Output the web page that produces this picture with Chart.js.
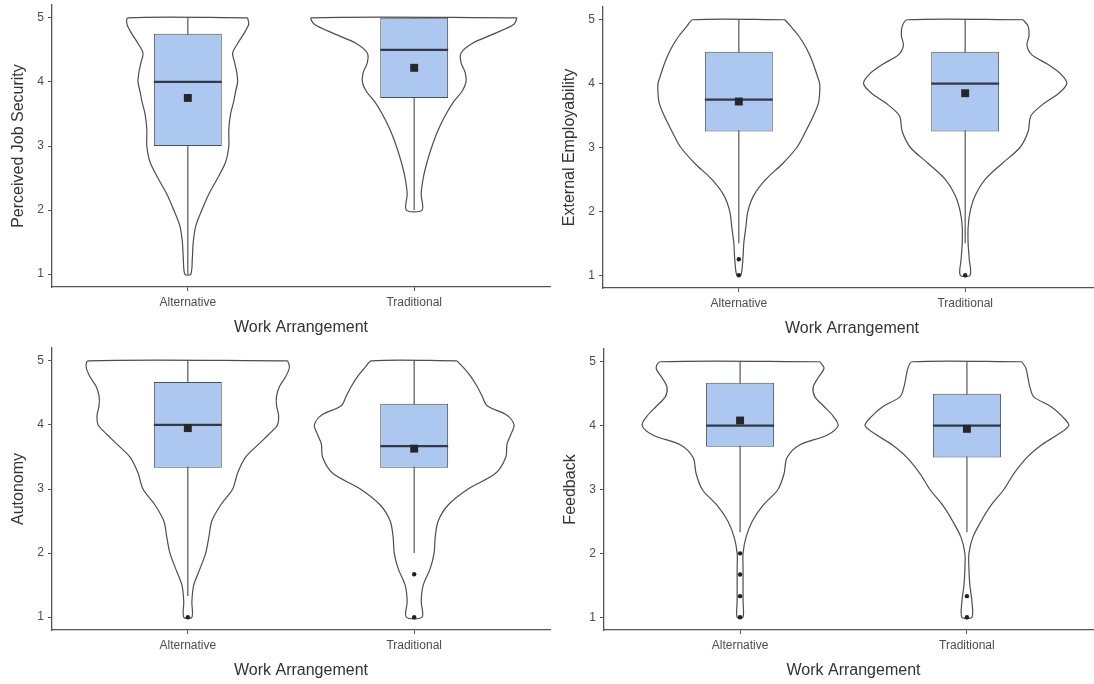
<!DOCTYPE html>
<html>
<head>
<meta charset="utf-8">
<script src="https://cdn.jsdelivr.net/npm/chart.js@4/dist/chart.umd.min.js"></script>
<style>
  body { margin: 0; background: #fff; overflow: hidden; width: 1094px; height: 684px; position: relative; }
  canvas { position: absolute; }
</style>
</head>
<body>
<canvas id="jobSecurity"></canvas>
<canvas id="employability"></canvas>
<canvas id="autonomy"></canvas>
<canvas id="feedback"></canvas>
<script>
// shared axis data
const categories = ['Alternative', 'Traditional'];
const yTicks = [1, 2, 3, 4, 5];
const violinLevels = [5, 4.9, 4.75, 4.6, 4.45, 4.3, 4.15, 4, 3.85, 3.7, 3.5, 3.25, 3, 2.75, 2.5, 2.25, 2, 1.75, 1.5, 1.25, 1];

// Perceived Job Security (violin half widths in category units, per level)
const jobSecurityViolinAlt = [0.264, 0.269, 0.247, 0.220, 0.198, 0.207, 0.216, 0.220, 0.211, 0.203, 0.189, 0.181, 0.181, 0.167, 0.132, 0.093, 0.062, 0.035, 0.024, 0.020, 0.013];
const jobSecurityViolinTrad = [0.454, 0.441, 0.352, 0.256, 0.207, 0.207, 0.225, 0.229, 0.211, 0.176, 0.141, 0.106, 0.079, 0.057, 0.040, 0.031, 0.035, null, null, null, null];
const jobSecurityQ1 = [3, 3.75];
const jobSecurityMedian = [4, 4.5];
const jobSecurityQ3 = [4.75, 5];
const jobSecurityLow = [1, 2];
const jobSecurityHigh = [5, 5];
const jobSecurityMean = [3.75, 4.22];
const jobSecurityOutliers = [[], []];

// External Employability
const employViolinAlt = [0.203, 0.229, 0.264, 0.291, 0.313, 0.330, 0.344, 0.357, 0.357, 0.352, 0.330, 0.295, 0.256, 0.194, 0.119, 0.066, 0.040, 0.031, 0.022, 0.018, 0.009];
const employViolinTrad = [0.256, 0.278, 0.282, 0.273, 0.295, 0.366, 0.423, 0.449, 0.414, 0.352, 0.291, 0.278, 0.242, 0.163, 0.088, 0.044, 0.022, 0.013, 0.013, 0.018, 0.022];
const employQ1 = [3.25, 3.25];
const employMedian = [3.75, 4];
const employQ3 = [4.5, 4.5];
const employLow = [1.5, 1.5];
const employHigh = [5, 5];
const employMean = [3.72, 3.85];
const employOutliers = [[1.25, 1], [1]];

// Autonomy
const autonomyViolinAlt = [0.441, 0.449, 0.432, 0.405, 0.392, 0.392, 0.401, 0.396, 0.357, 0.313, 0.256, 0.220, 0.198, 0.145, 0.106, 0.093, 0.079, 0.053, 0.026, 0.018, 0.018];
const autonomyViolinTrad = [0.189, 0.216, 0.251, 0.278, 0.300, 0.322, 0.410, 0.441, 0.427, 0.410, 0.405, 0.361, 0.238, 0.150, 0.106, 0.093, 0.088, 0.070, 0.040, 0.031, 0.035];
const autonomyQ1 = [3.33, 3.33];
const autonomyMedian = [4, 3.67];
const autonomyQ3 = [4.67, 4.33];
const autonomyLow = [1.33, 2];
const autonomyHigh = [5, 5];
const autonomyMean = [3.95, 3.63];
const autonomyOutliers = [[1], [1.67, 1]];

// Feedback
const feedbackViolinAlt = [0.352, 0.370, 0.344, 0.322, 0.330, 0.370, 0.410, 0.432, 0.383, 0.264, 0.207, 0.194, 0.167, 0.101, 0.053, 0.026, 0.013, 0.013, 0.013, 0.013, 0.013];
const feedbackViolinTrad = [0.242, 0.260, 0.269, 0.278, 0.295, 0.370, 0.419, 0.449, 0.396, 0.330, 0.264, 0.207, 0.163, 0.106, 0.062, 0.026, 0.009, 0.009, 0.013, 0.022, 0.022];
const feedbackQ1 = [3.67, 3.5];
const feedbackMedian = [4, 4];
const feedbackQ3 = [4.67, 4.5];
const feedbackLow = [2.33, 2.33];
const feedbackHigh = [5, 5];
const feedbackMean = [4.08, 3.95];
const feedbackOutliers = [[2, 1.67, 1.33, 1], [1.33, 1]];

const panels = [
    { id: 'jobSecurity', title: 'Perceived Job Security', violins: [jobSecurityViolinAlt, jobSecurityViolinTrad],
      q1: jobSecurityQ1, median: jobSecurityMedian, q3: jobSecurityQ3, low: jobSecurityLow, high: jobSecurityHigh,
      mean: jobSecurityMean, outliers: jobSecurityOutliers,
      left: 0, top: 0, width: 552, height: 337, padTop: 5, padRight: 2 },
    { id: 'employability', title: 'External Employability', violins: [employViolinAlt, employViolinTrad],
      q1: employQ1, median: employMedian, q3: employQ3, low: employLow, high: employHigh,
      mean: employMean, outliers: employOutliers,
      left: 551, top: 0, width: 550, height: 338, padTop: 7, padRight: 0 },
    { id: 'autonomy', title: 'Autonomy', violins: [autonomyViolinAlt, autonomyViolinTrad],
      q1: autonomyQ1, median: autonomyMedian, q3: autonomyQ3, low: autonomyLow, high: autonomyHigh,
      mean: autonomyMean, outliers: autonomyOutliers,
      left: 0, top: 340, width: 552, height: 340, padTop: 8, padRight: 2 },
    { id: 'feedback', title: 'Feedback', violins: [feedbackViolinAlt, feedbackViolinTrad],
      q1: feedbackQ1, median: feedbackMedian, q3: feedbackQ3, low: feedbackLow, high: feedbackHigh,
      mean: feedbackMean, outliers: feedbackOutliers,
      left: 552, top: 340, width: 551, height: 340, padTop: 9, padRight: 0 }
];

Chart.defaults.font.family = "'Liberation Sans', Arial, sans-serif";
const boxHalf = 0.15;
const lineColor = '#555555';

function violinOutline(center, widths)
{
    const right = [];
    const left = [];
    violinLevels.forEach((level, i) => {
        if (widths[i] === null) return;
        right.push({ x: center + widths[i], y: level });
        left.unshift({ x: center - widths[i], y: level });
    });
    const pts = right.concat(left);
    pts.push(pts[0]);
    return pts;
}

function buildDatasets(p)
{
    const sets = [];
    categories.forEach((cat, i) => {
        const c = i + 1;
        sets.push({
            type: 'scatter', showLine: true, data: violinOutline(c, p.violins[i]),
            borderColor: '#4d4d4d', borderWidth: 1.2, pointRadius: 0, tension: 0.3, fill: false, order: 6
        });
        sets.push({
            type: 'scatter', showLine: true, data: [{ x: c, y: p.low[i] }, { x: c, y: p.high[i] }],
            borderColor: lineColor, borderWidth: 1.2, pointRadius: 0, order: 5
        });
        sets.push({
            type: 'scatter', showLine: true, data: [{ x: c - boxHalf, y: p.median[i] }, { x: c + boxHalf, y: p.median[i] }],
            borderColor: '#333a44', borderWidth: 2.2, pointRadius: 0, order: 3
        });
    });
    sets.push({
        type: 'bar', data: categories.map((cat, i) => ({ x: i + 1, y: [p.q1[i], p.q3[i]] })),
        backgroundColor: '#adc8f0', borderColor: '#4a505a', borderWidth: 1, borderSkipped: false,
        barPercentage: 2 * boxHalf, categoryPercentage: 1, grouped: false, order: 4
    });
    sets.push({
        type: 'scatter', data: categories.map((cat, i) => ({ x: i + 1, y: p.mean[i] })),
        pointStyle: 'rect', pointRadius: 5.6, backgroundColor: '#262626', borderColor: '#262626', borderWidth: 0, order: 2
    });
    const outs = [];
    p.outliers.forEach((vals, i) => vals.forEach(v => outs.push({ x: i + 1, y: v })));
    sets.push({
        type: 'scatter', data: outs, pointRadius: 2.2, backgroundColor: '#222', borderColor: '#222', borderWidth: 0, order: 1
    });
    return sets;
}

// stop chart.js from reserving room for tick labels at the axis ends
function noEdgePadding(s)
{
    s.paddingTop = 0;
    s.paddingBottom = 0;
    s.paddingLeft = 0;
    s.paddingRight = 0;
}

panels.forEach(p => {
    const canvas = document.getElementById(p.id);
    canvas.width = p.width;
    canvas.height = p.height;
    canvas.style.left = p.left + 'px';
    canvas.style.top = p.top + 'px';

    new Chart(canvas.getContext('2d'), {
        type: 'scatter',
        data: { datasets: buildDatasets(p) },
        options: {
            responsive: false,
            animation: false,
            layout: { autoPadding: false, padding: { top: p.padTop, right: p.padRight, left: 0, bottom: 0 } },
            plugins: { legend: { display: false }, tooltip: { enabled: false } },
            scales: {
                x: {
                    type: 'linear', min: 0.4, max: 2.6, offset: false,
                    afterBuildTicks: s => { s.ticks = categories.map((c, i) => ({ value: i + 1 })); },
                    afterFit: s => { s.height = 50; noEdgePadding(s); },
                    ticks: {
                        autoSkip: false, padding: 4, color: '#4d4d4d', font: { size: 12 },
                        callback: v => categories[v - 1]
                    },
                    grid: { drawOnChartArea: false, drawTicks: true, tickLength: 4, color: lineColor, offset: false },
                    border: { display: true, color: lineColor, width: 1.3 },
                    title: { display: true, text: 'Work Arrangement', color: '#333', font: { size: 16 }, padding: { top: 0, bottom: 0 } }
                },
                y: {
                    type: 'linear', min: 0.8, max: 5.2,
                    afterBuildTicks: s => { s.ticks = yTicks.map(v => ({ value: v })); },
                    afterFit: s => { s.width = 52; noEdgePadding(s); },
                    ticks: { autoSkip: false, padding: 4, color: '#4d4d4d', font: { size: 12 } },
                    grid: { drawOnChartArea: false, drawTicks: true, tickLength: 4, color: lineColor },
                    border: { display: true, color: lineColor, width: 1.3 },
                    title: { display: true, text: p.title, color: '#333', font: { size: 16 }, padding: { top: 9, bottom: 0 } }
                }
            }
        }
    });
});
</script>
</body>
</html>
